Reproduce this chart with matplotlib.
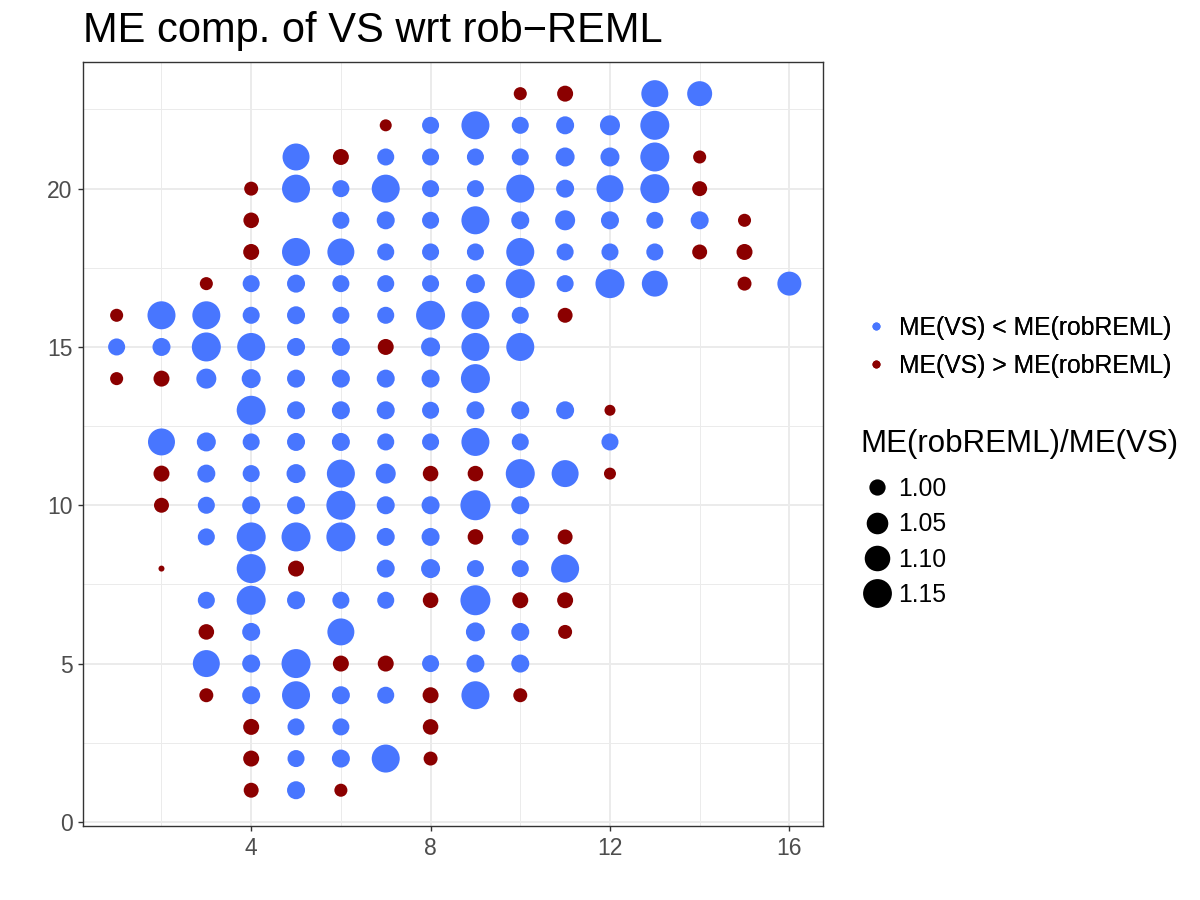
import numpy as np
import matplotlib
matplotlib.use("Agg")
import matplotlib.pyplot as plt
from matplotlib.lines import Line2D

plt.rcParams["font.family"] = ["Liberation Sans", "DejaVu Sans"]

# --- data: grid position and ME(robREML)/ME(VS) ratio, one line per y row ---
x_pos = [
    10, 11, 13, 14,                                  # y = 23
    7, 8, 9, 10, 11, 12, 13,                         # y = 22
    5, 6, 7, 8, 9, 10, 11, 12, 13, 14,               # y = 21
    4, 5, 6, 7, 8, 9, 10, 11, 12, 13, 14,            # y = 20
    4, 6, 7, 8, 9, 10, 11, 12, 13, 14, 15,           # y = 19
    4, 5, 6, 7, 8, 9, 10, 11, 12, 13, 14, 15,        # y = 18
    3, 4, 5, 6, 7, 8, 9, 10, 11, 12, 13, 15, 16,     # y = 17
    1, 2, 3, 4, 5, 6, 7, 8, 9, 10, 11,               # y = 16
    1, 2, 3, 4, 5, 6, 7, 8, 9, 10,                   # y = 15
    1, 2, 3, 4, 5, 6, 7, 8, 9,                       # y = 14
    4, 5, 6, 7, 8, 9, 10, 11, 12,                    # y = 13
    2, 3, 4, 5, 6, 7, 8, 9, 10, 12,                  # y = 12
    2, 3, 4, 5, 6, 7, 8, 9, 10, 11, 12,              # y = 11
    2, 3, 4, 5, 6, 7, 8, 9, 10,                      # y = 10
    3, 4, 5, 6, 7, 8, 9, 10, 11,                     # y = 9
    2, 4, 5, 7, 8, 9, 10, 11,                        # y = 8
    3, 4, 5, 6, 7, 8, 9, 10, 11,                     # y = 7
    3, 4, 6, 9, 10, 11,                              # y = 6
    3, 4, 5, 6, 7, 8, 9, 10,                         # y = 5
    3, 4, 5, 6, 7, 8, 9, 10,                         # y = 4
    4, 5, 6, 8,                                      # y = 3
    4, 5, 6, 7, 8,                                   # y = 2
    4, 5, 6,                                         # y = 1
]
y_rows = [23, 22, 21, 20, 19, 18, 17, 16, 15, 14, 13, 12,
          11, 10, 9, 8, 7, 6, 5, 4, 3, 2, 1]
row_counts = [4, 7, 10, 11, 11, 12, 13, 11, 10, 9, 9, 10,
              11, 9, 9, 8, 9, 6, 8, 8, 4, 5, 3]
y_pos = np.repeat(y_rows, row_counts)

ratio = [
    0.980, 0.998, 1.121, 1.092,
    0.975, 1.006, 1.137, 1.006, 1.014, 1.033, 1.153,
    1.121, 0.998, 1.006, 1.006, 1.006, 1.006, 1.023, 1.023, 1.153, 0.980,
    0.985, 1.137, 1.006, 1.137, 1.006, 1.006, 1.137, 1.014, 1.121, 1.153, 0.991,
    0.995, 1.006, 1.014, 1.006, 1.137, 1.014, 1.033, 1.014, 1.006, 1.014, 0.980,
    0.998, 1.137, 1.121, 1.006, 1.006, 1.006, 1.137, 1.006, 1.006, 1.006, 0.991, 0.998,
    0.980, 1.006, 1.014, 1.006, 1.006, 1.006, 1.023, 1.153, 1.006, 1.153, 1.106, 0.985, 1.079,
    0.980, 1.137, 1.137, 1.006, 1.014, 1.006, 1.006, 1.153, 1.137, 1.006, 0.991,
    1.006, 1.014, 1.153, 1.137, 1.014, 1.014, 0.998, 1.023, 1.137, 1.137,
    0.980, 0.998, 1.033, 1.023, 1.014, 1.014, 1.014, 1.014, 1.153,
    1.153, 1.014, 1.014, 1.014, 1.006, 1.014, 1.014, 1.014, 0.971,
    1.121, 1.023, 1.006, 1.014, 1.014, 1.006, 1.006, 1.137, 1.006, 1.006,
    0.998, 1.014, 1.006, 1.023, 1.137, 1.033, 0.995, 0.995, 1.153, 1.121, 0.975,
    0.991, 1.006, 1.014, 1.014, 1.153, 1.014, 1.014, 1.170, 1.014,
    1.006, 1.153, 1.153, 1.153, 1.014, 1.014, 0.995, 1.006, 0.991,
    0.962, 1.153, 0.998, 1.014, 1.023, 1.006, 1.006, 1.137,
    1.006, 1.153, 1.014, 1.006, 1.006, 0.995, 1.170, 0.998, 0.998,
    0.995, 1.014, 1.121, 1.023, 1.014, 0.985,
    1.121, 1.014, 1.153, 0.998, 0.998, 1.006, 1.014, 1.014,
    0.985, 1.014, 1.137, 1.014, 1.006, 0.998, 1.137, 0.985,
    0.998, 1.006, 1.006, 0.995,
    0.998, 1.006, 1.014, 1.137, 0.985,
    0.991, 1.014, 0.980,
]

group_labels = ["ME(VS) < ME(robREML)", "ME(VS) > ME(robREML)"]
size_breaks = [1.00, 1.05, 1.10, 1.15]

BLUE = "#4876FF"
RED = "#8B0000"

x_pos = np.array(x_pos)
ratio = np.array(ratio)

# ggplot-like area scale: ratio -> diameter in pixels
R_LO, R_HI = 0.962, 1.170
def ratio_to_px(r):
    t = np.clip((np.asarray(r) - R_LO) / (R_HI - R_LO), 0, 1)
    return 6 + 24 * np.sqrt(t)

PX2PT = 72 / 100
sizes = (ratio_to_px(ratio) * PX2PT) ** 2
colors = np.where(ratio > 1, BLUE, RED)

fig = plt.figure(figsize=(12, 9), dpi=100)
ax = fig.add_axes([83 / 1200, 1 - 826 / 900, 740 / 1200, 764 / 900])

ax.scatter(x_pos, y_pos, s=sizes, c=colors, linewidths=0, zorder=3)

ax.set_xlim(0.25, 16.75)
ax.set_ylim(-0.13, 24.0)
ax.set_xticks([4, 8, 12, 16])
ax.set_xticks([2, 6, 10, 14], minor=True)
ax.set_yticks([0, 5, 10, 15, 20])
ax.set_yticks([2.5, 7.5, 12.5, 17.5, 22.5], minor=True)
ax.grid(which="major", color="#EBEBEB", linewidth=1.4, zorder=0)
ax.grid(which="minor", color="#EBEBEB", linewidth=0.7, zorder=0)
ax.set_axisbelow(True)
for sp in ax.spines.values():
    sp.set_color("#333333")
    sp.set_linewidth(1.0)
ax.tick_params(which="major", length=3.6, width=1.0, color="#333333",
               labelsize=16.5, labelcolor="#4D4D4D", pad=4)
ax.tick_params(which="minor", length=0)

fig.text(83 / 1200, 1 - 42 / 900, "ME comp. of VS wrt rob\u2212REML",
         fontsize=30, ha="left", va="baseline")

# --- colour legend ---
col_handles = [Line2D([], [], marker="o", ls="", color=c, markersize=8 * PX2PT,
                      markeredgewidth=0) for c in (BLUE, RED)]
leg1 = fig.legend(col_handles, group_labels, loc="upper left",
                  bbox_to_anchor=(864 / 1200, 1 - 316 / 900), frameon=False,
                  fontsize=17.8, handlelength=1.0, handletextpad=0.43,
                  labelspacing=0.57, borderpad=0, borderaxespad=0)

# --- size legend ---
fig.text(860 / 1200, 1 - 452 / 900, "ME(robREML)/ME(VS)", fontsize=22.5,
         ha="left", va="baseline")
size_handles = [Line2D([], [], marker="o", ls="", color="black",
                       markersize=float(ratio_to_px(b)) * PX2PT, markeredgewidth=0)
                for b in size_breaks]
leg2 = fig.legend(size_handles, [f"{b:.2f}" for b in size_breaks], loc="upper left",
                  bbox_to_anchor=(865 / 1200, 1 - 477 / 900), frameon=False,
                  fontsize=17.8, handlelength=1.0, handletextpad=0.35,
                  labelspacing=0.46, borderpad=0, borderaxespad=0)
fig.add_artist(leg1)

fig.savefig("out.png", dpi=100)
